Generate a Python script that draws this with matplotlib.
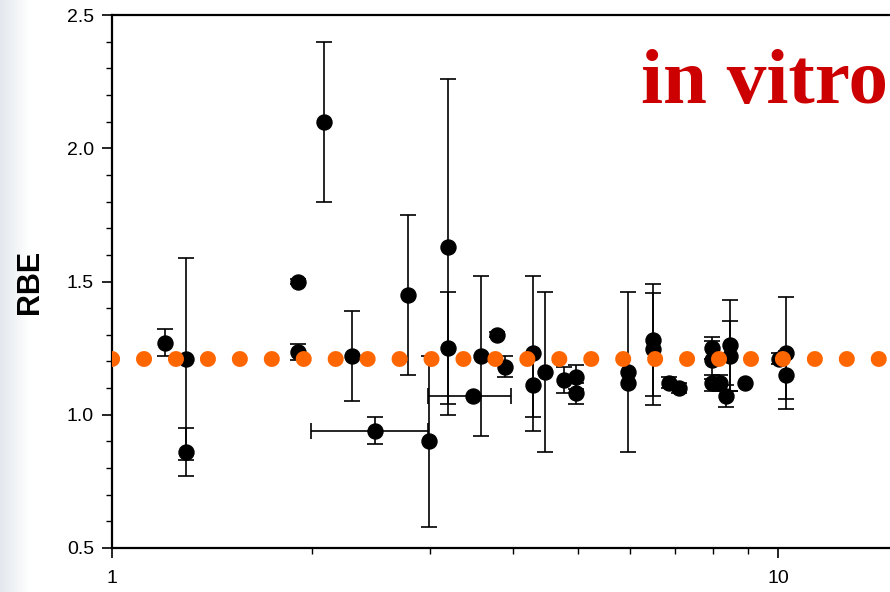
import numpy as np
import matplotlib
matplotlib.use("Agg")
import matplotlib.pyplot as plt
from matplotlib.ticker import FixedLocator, FixedFormatter, LogLocator, NullFormatter, MultipleLocator

# LET values (x) and RBE values with their uncertainties
let_vals = [1.20, 1.29, 1.29, 1.90, 1.90, 2.08, 2.29, 2.48, 2.78, 2.99,
            3.19, 3.19, 3.48, 3.58, 3.79, 3.89, 4.28, 4.28, 4.47, 4.78,
            4.97, 4.97, 5.96, 5.96, 6.48, 6.48, 6.85, 7.10, 7.95, 7.95,
            7.95, 8.18, 8.47, 8.47, 8.35, 8.92, 10.04, 10.27, 10.27]
rbe_vals = [1.27, 1.21, 0.86, 1.50, 1.235, 2.10, 1.22, 0.94, 1.45, 0.90,
            1.63, 1.25, 1.07, 1.22, 1.30, 1.18, 1.23, 1.11, 1.16, 1.13,
            1.14, 1.08, 1.16, 1.12, 1.28, 1.245, 1.12, 1.10, 1.25, 1.205,
            1.12, 1.12, 1.26, 1.22, 1.07, 1.12, 1.21, 1.23, 1.15]
rbe_err = [0.05, 0.38, 0.09, 0.01, 0.03, 0.30, 0.17, 0.05, 0.30, 0.32,
           0.63, 0.21, 0.00, 0.30, 0.01, 0.04, 0.29, 0.12, 0.30, 0.05,
           0.045, 0.04, 0.30, 0.00, 0.21, 0.21, 0.02, 0.02, 0.04, 0.07,
           0.03, 0.03, 0.17, 0.13, 0.04, 0.00, 0.02, 0.21, 0.09]
# horizontal error bars (LET ranges)
xerr_let = [2.48, 3.48]
xerr_rbe = [0.94, 1.07]
xerr_lo = [0.49, 0.50]
xerr_hi = [0.50, 0.49]

ref_rbe = 1.21

W, H = 890, 592
fig = plt.figure(figsize=(W / 100, H / 100), dpi=100)

# faint slide background on the left edge
bg = fig.add_axes([0, 0, 30 / W, 1], zorder=-5)
grad = np.linspace(0, 1, 50)[None, :]
bg.imshow(grad, aspect="auto", cmap=matplotlib.colors.LinearSegmentedColormap.from_list(
    "bg", ["#e3e8ee", "#ffffff"]), extent=[0, 1, 0, 1])
bg.axis("off")

ax = fig.add_axes([112 / W, 44 / H, 1 - 112 / W, 533 / H])

x = np.array(let_vals)
y = np.array(rbe_vals)
e = np.array(rbe_err)
has_err = e > 0

ax.errorbar(x[has_err], y[has_err], yerr=e[has_err], fmt="o", color="black",
            ms=10.8, elinewidth=1.2, capsize=6, capthick=1.2, zorder=3)
ax.plot(x[~has_err], y[~has_err], "o", color="black", ms=10.8, zorder=3)
ax.errorbar(xerr_let, xerr_rbe, xerr=[xerr_lo, xerr_hi], fmt="none", ecolor="black",
            elinewidth=1.2, capsize=6, capthick=1.2, zorder=3)

# dotted reference line made of round dots
ax.axhline(ref_rbe, color="#ff6600", lw=11.5, dashes=(0.01, 1.99),
           dash_capstyle="round", solid_capstyle="round", zorder=4)

ax.set_xscale("log")
ax.set_xlim(1, 10 ** (778 / 666))
ax.set_ylim(0.5, 2.5)

ax.xaxis.set_major_locator(FixedLocator([1, 10]))
ax.xaxis.set_major_formatter(FixedFormatter(["1", "10"]))
ax.xaxis.set_minor_locator(LogLocator(base=10, subs=np.arange(2, 10)))
ax.xaxis.set_minor_formatter(NullFormatter())
ax.yaxis.set_major_locator(MultipleLocator(0.5))
ax.yaxis.set_minor_locator(MultipleLocator(0.1))
ax.yaxis.set_major_formatter(matplotlib.ticker.FormatStrFormatter("%.1f"))

ax.tick_params(which="major", direction="out", length=7, width=1.2,
               labelsize=14)
ax.tick_params(axis="y", which="major", pad=6)
ax.tick_params(axis="x", which="major", pad=9)
ax.tick_params(which="minor", direction="out", length=4, width=1.0)
for lab in ax.get_xticklabels() + ax.get_yticklabels():
    lab.set_family("Liberation Sans")

ax.spines["right"].set_visible(False)
for s in ["left", "top", "bottom"]:
    ax.spines[s].set_linewidth(1.6)

ax.set_ylabel("RBE", fontsize=22, fontweight="bold", family="Liberation Sans",
              labelpad=16)

fig.text(888 / W, (H - 103) / H, "in vitro", color="#cc0000", fontsize=57,
         fontweight="bold", family="Liberation Serif", ha="right", va="baseline")

fig.savefig("out.png", dpi=100)
